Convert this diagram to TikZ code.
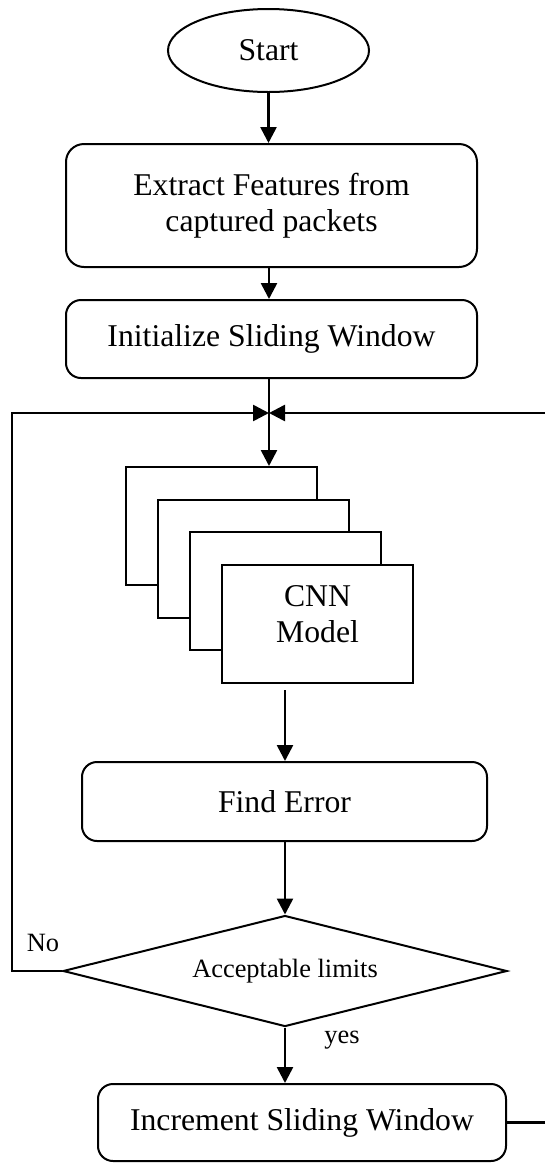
\documentclass[tikz,border=0pt]{standalone}
\usepackage{fontspec}
\setmainfont{Liberation Serif}
\usetikzlibrary{arrows.meta,shapes.geometric}

\begin{document}
\begin{tikzpicture}[x=1pt,y=-1pt,>={Triangle[length=16pt,width=16pt]},
box/.style={draw,line width=2pt,rounded corners=15pt,align=center,inner sep=0pt,font=\fontsize{31.7}{36.5}\selectfont},
layer/.style={draw,fill=white,line width=2pt,minimum width=191pt,minimum height=118pt,inner sep=0pt},
flow/.style={->,line width=2.6pt},
note/.style={font=\fontsize{26.4}{30}\selectfont}]
\useasboundingbox (0,0) rectangle (545,1163);
\node[box,ellipse,sharp corners,minimum width=201pt,minimum height=83pt] (start) at (268.5,50.5) {Start};
\node[box,rounded corners=18pt,minimum width=411pt,minimum height=123pt] (extract) at (271.5,205.5) {Extract Features from\\captured packets};
\node[box,minimum width=411pt,minimum height=78pt] (init) at (271.5,339) {Initialize Sliding Window};
% stacked model boxes
\foreach \i in {1,...,4}
  \node[layer] (cnn\i) at (189.5+32*\i,493.3+32.7*\i) {};
\node[align=center,font=\fontsize{31.7}{36.5}\selectfont] (cnntext) at ([yshift=10pt]cnn4.center) {CNN\\Model};
\node[box,minimum width=405pt,minimum height=79pt] (find) at (284.5,801.5) {Find Error};
\node[draw,diamond,line width=2pt,inner sep=0pt,aspect=4,minimum width=444pt,minimum height=111pt,note] (check) at (285,971) {Acceptable limits};
\node[box,minimum width=408pt,minimum height=77pt] (inc) at (302,1122.5) {Increment Sliding Window};
\node[note] (no) at (43,943) {No};
\node[note] (yes) at (342,1040) {yes};
\coordinate (join) at (269,413);
\coordinate (rim) at (549,413);
\draw[flow] (start.south) -- (start.south |- extract.north);
\draw[flow] (extract.south -| join) -- (join |- init.north);
\draw[flow] (init.south -| join) -- (join |- cnn1.north);
\draw[flow] ([yshift=-6pt]check.north |- cnn4.south) -- (check.north |- find.north);
\draw[flow] (check.north |- find.south) -- (check.north);
\draw[flow] (check.south) -- (check.south |- inc.north);
\draw[flow] (check.west) -- ++(-50,0) |- (join);
\draw[flow] (inc.east) -| (rim) -- (join);
\end{tikzpicture}
\end{document}
